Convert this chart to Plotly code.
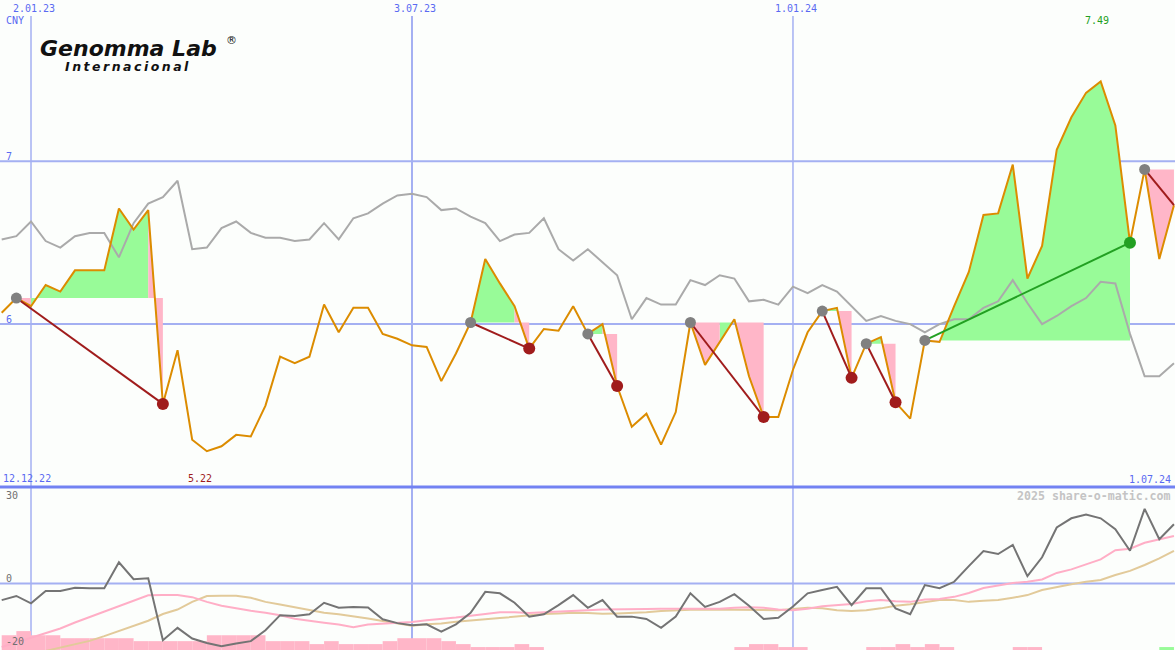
import plotly.graph_objects as go
import pandas as pd

# ---------------- data (weekly, Mondays) ----------------
dates = pd.date_range("2022-12-19", periods=81, freq="7D")

price = [6.07, 6.16, 6.11, 6.24, 6.20, 6.33, 6.33, 6.33, 6.71, 6.58, 6.70,
         5.51, 5.84, 5.29, 5.22, 5.25, 5.32, 5.31, 5.50, 5.80, 5.76,
         5.80, 6.12, 5.95, 6.10, 6.10, 5.94, 5.91, 5.87, 5.86, 5.65,
         5.82, 6.01, 6.40, 6.25, 6.11, 5.85, 5.97, 5.96, 6.11, 5.94,
         6.00, 5.62, 5.37, 5.45, 5.26, 5.46, 6.01, 5.75, 5.89, 6.03,
         5.68, 5.43, 5.43, 5.72, 5.95, 6.08, 6.10, 5.67, 5.88, 5.92,
         5.52, 5.42, 5.90, 5.89, 6.11, 6.32, 6.67, 6.68, 6.98, 6.28,
         6.48, 7.07, 7.27, 7.42, 7.49, 7.22, 6.50, 6.95, 6.40, 6.73]

benchmark = [6.52, 6.54, 6.63, 6.51, 6.47, 6.54, 6.56, 6.56, 6.41, 6.62, 6.74,
             6.78, 6.88, 6.46, 6.47, 6.59, 6.63, 6.56, 6.53, 6.53, 6.51,
             6.52, 6.62, 6.52, 6.65, 6.68, 6.74, 6.79, 6.80, 6.78, 6.70,
             6.71, 6.66, 6.62, 6.51, 6.55, 6.56, 6.65, 6.46, 6.39, 6.46,
             6.38, 6.30, 6.03, 6.16, 6.12, 6.12, 6.27, 6.24, 6.30, 6.28,
             6.14, 6.15, 6.12, 6.23, 6.19, 6.24, 6.20, 6.11, 6.02, 6.05,
             6.02, 6.00, 5.95, 6.00, 6.03, 6.03, 6.10, 6.14, 6.27, 6.13,
             6.00, 6.05, 6.11, 6.16, 6.26, 6.25, 5.94, 5.68, 5.68, 5.76]

momentum = [-5.6, -4.2, -6.7, -2.5, -2.5, -1.4, -1.6, -1.6, 7.2, 1.5, 1.8,
            -19.2, -15.0, -18.6, -20.1, -21.2, -20.3, -19.5, -15.8, -10.7, -11.0,
            -10.4, -6.5, -8.2, -7.9, -8.1, -12.1, -13.4, -14.1, -13.8, -16.3,
            -13.8, -9.9, -2.8, -3.3, -6.5, -11.2, -10.4, -7.3, -3.9, -8.2,
            -5.6, -11.2, -11.2, -12.0, -15.0, -11.2, -3.3, -7.9, -6.2, -3.6,
            -7.5, -12.0, -11.6, -7.8, -3.3, -2.2, -1.1, -7.3, -1.6, -1.6,
            -8.4, -10.4, -0.5, -1.6, 0.6, 5.9, 11.0, 10.0, 13.1, 2.5,
            8.9, 19.0, 22.1, 23.4, 22.1, 18.4, 11.1, 25.3, 15.0, 20.1]

ma_fast = [-21.5, -19.9, -18.3, -16.8, -15.2, -13.2, -11.4, -9.4, -7.7, -5.9, -4.0,
           -3.9, -3.9, -4.6, -6.2, -7.5, -8.4, -9.2, -9.9, -10.7, -11.9,
           -12.7, -13.3, -13.9, -14.8, -13.9, -13.6, -13.4, -13.0, -12.4, -12.0,
           -11.5, -10.9, -10.2, -9.7, -9.7, -10.0, -9.7, -9.4, -9.2, -9.0,
           -8.8, -8.8, -8.8, -8.6, -8.5, -8.5, -8.5, -8.5, -8.5, -8.2,
           -8.0, -8.2, -8.8, -9.0, -8.5, -7.7, -7.3, -6.9, -6.0, -5.6,
           -6.0, -6.2, -5.4, -5.2, -4.5, -3.2, -1.5, -0.7, 0.2, 0.6,
           1.4, 3.6, 4.8, 6.5, 8.2, 11.3, 11.8, 13.8, 14.9, 16.1]

ma_slow = [None, None, None, -22.8, -21.6, -20.6, -19.4, -17.8, -16.1, -14.4, -12.6,
           -10.3, -8.8, -6.2, -4.2, -4.1, -4.1, -4.8, -6.2, -7.1, -8.1,
           -9.0, -9.9, -10.4, -11.0, -11.8, -12.7, -13.5, -14.3, -13.8, -13.5,
           -12.9, -12.6, -12.1, -11.7, -11.2, -10.7, -10.3, -10.1, -9.9, -10.0,
           -10.2, -10.1, -10.0, -9.7, -9.3, -9.0, -8.9, -8.8, -8.8, -8.8,
           -8.9, -9.0, -9.0, -8.6, -8.2, -8.4, -9.0, -9.3, -9.0, -8.4,
           -7.5, -7.0, -6.4, -5.6, -5.6, -6.2, -5.8, -5.6, -4.8, -3.9,
           -2.2, -1.1, -0.2, 0.6, 1.2, 2.9, 4.3, 6.3, 8.5, 11.1]

# signal strength bars (negative = pink, positive = green)
signal_bars = [-5, -6.4, -5, -5, -4, -4, -4, -4, -4, -3, -3,
               -3, -3, -3, -5, -5, -5, -5, -3, -3, -3,
               -2, -3, -2, -2, -2, -3, -4, -4, -4, -3,
               -2, -1, -1, -1, -2, -1, 0, 0, 0, 0,
               0, 0, 0, 0, 0, 0, 0, 0, 0, -1,
               -2, -2, -1, -1, 0, 0, 0, 0, -1, -1,
               -2, -1, -2, -1, 0, 0, 0, 0, -1, -1,
               0, 0, 0, 0, 0, 0, 0, 0, 1, 0]

trade_starts = ["2022-12-26", "2023-07-31", "2023-09-25", "2023-11-13",
                "2024-01-15", "2024-02-05", "2024-03-04", "2024-06-17"]
trade_ends = ["2023-03-06", "2023-08-28", "2023-10-09", "2023-12-18",
              "2024-01-29", "2024-02-19", "2024-06-10", "2024-07-01"]
trade_closed = [True, True, True, True, True, True, True, False]

date_labels = ["2023-01-02", "2023-07-03", "2024-01-01"]
date_label_text = ["2.01.23", "3.07.23", "1.01.24"]
range_start_label = "12.12.22"
range_end_label = "1.07.24"
currency = "CNY"
price_ticks = [7, 6]
osc_ticks = [30, 0, -20]

# ---------------- styling constants ----------------
BG = "#fcfefc"
GRID = "#a4b0f2"
SEP = "#7282f2"
LBL = "#5a6af2"
ORANGE = "#dc8c00"
GRAYLINE = "#aaaaaa"
GREENFILL = "#98fb98"
PINKFILL = "#ffb6c8"
DARKRED = "#a01c1c"
GREEN = "#22a022"
MONO = "DejaVu Sans Mono"

W, H = 1175, 650
split = 163 / 650  # lower panel height share

idx = {d: i for i, d in enumerate(dates)}

fig = go.Figure()

# lower panel bars
fig.add_trace(go.Bar(
    x=dates, y=[abs(v) for v in signal_bars], base=-22.5,
    offset=0, width=7 * 86400000,
    marker=dict(color=[GREENFILL if v > 0 else PINKFILL for v in signal_bars], line=dict(width=0)),
    yaxis="y2", hoverinfo="skip"))

fig.add_trace(go.Scatter(x=dates, y=ma_slow, mode="lines", line=dict(color="#e2ca9a", width=2),
                         yaxis="y2", hoverinfo="skip"))
fig.add_trace(go.Scatter(x=dates, y=ma_fast, mode="lines", line=dict(color="#ffaec6", width=2),
                         yaxis="y2", hoverinfo="skip"))
fig.add_trace(go.Scatter(x=dates, y=momentum, mode="lines", line=dict(color="#747474", width=2),
                         yaxis="y2", hoverinfo="skip"))

# trade fills
gx, gy, px_, py_ = [], [], [], []
for s, e in zip(trade_starts, trade_ends):
    i0, i1 = idx[pd.Timestamp(s)], idx[pd.Timestamp(e)]
    base = price[i0]
    for k in range(i0, i1):
        xs = [dates[k], dates[k], dates[k + 1], dates[k + 1], dates[k], None]
        ys = [base, price[k], price[k + 1], base, base, None]
        if price[k + 1] > base:
            gx += xs; gy += ys
        else:
            px_ += xs; py_ += ys
fig.add_trace(go.Scatter(x=gx, y=gy, mode="lines", fill="toself", fillcolor=GREENFILL,
                         line=dict(width=0), hoverinfo="skip"))
fig.add_trace(go.Scatter(x=px_, y=py_, mode="lines", fill="toself", fillcolor=PINKFILL,
                         line=dict(width=0), hoverinfo="skip"))

fig.add_trace(go.Scatter(x=dates, y=benchmark, mode="lines", line=dict(color=GRAYLINE, width=2),
                         hoverinfo="skip"))
fig.add_trace(go.Scatter(x=dates, y=price, mode="lines", line=dict(color=ORANGE, width=2),
                         hoverinfo="skip"))

# trade lines and dots
for s, e, closed in zip(trade_starts, trade_ends, trade_closed):
    i0, i1 = idx[pd.Timestamp(s)], idx[pd.Timestamp(e)]
    win = price[i1] > price[i0]
    col = GREEN if win else DARKRED
    fig.add_trace(go.Scatter(x=[dates[i0], dates[i1]], y=[price[i0], price[i1]], mode="lines",
                             line=dict(color=col, width=2), hoverinfo="skip"))
    fig.add_trace(go.Scatter(x=[dates[i0]], y=[price[i0]], mode="markers",
                             marker=dict(color="#808080", size=11), hoverinfo="skip"))
    if closed:
        fig.add_trace(go.Scatter(x=[dates[i1]], y=[price[i1]], mode="markers",
                                 marker=dict(color=col, size=12), hoverinfo="skip"))

shapes = []
for d, wd in zip(date_labels, [1.5, 2, 1.5]):
    shapes.append(dict(type="line", xref="x", yref="paper", x0=d, x1=d, y0=0, y1=1 - 16 / H,
                       line=dict(color=GRID, width=wd), layer="below"))
for t in price_ticks:
    shapes.append(dict(type="line", xref="paper", yref="y", x0=0, x1=1, y0=t, y1=t,
                       line=dict(color=GRID, width=2), layer="below"))
shapes.append(dict(type="line", xref="paper", yref="y2", x0=0, x1=1, y0=0, y1=0,
                   line=dict(color=GRID, width=2), layer="below"))
shapes.append(dict(type="line", xref="paper", yref="paper", x0=0, x1=1, y0=split, y1=split,
                   line=dict(color=SEP, width=3), layer="below"))


def ann(text, x, y, color, size=10, xanchor="left", family=MONO, xref="paper", bold=False, italic=False, **kw):
    f = dict(family=family, size=size, color=color)
    if bold:
        f["weight"] = "bold"
    if italic:
        f["style"] = "italic"
    return dict(text=text, x=x if xref != "paper" else x / W, y=1 - y / H, xref=xref, yref="paper",
                showarrow=False, xanchor=xanchor, yanchor="middle", font=f, **kw)


annotations = []
for d, t in zip(date_labels, date_label_text):
    annotations.append(ann(t, d, 8, LBL, xanchor="center", xref="x", xshift=3))
annotations.append(ann(currency, 4, 21, LBL))
annotations.append(ann(str(price_ticks[0]), 4, 156, LBL))
annotations.append(ann(str(price_ticks[1]), 4, 319, LBL))
annotations.append(ann(range_start_label, 1, 478, LBL))
annotations.append(ann(range_end_label, 1173, 479, LBL, xanchor="right"))
imax = price.index(max(price))
imin = price.index(min(price))
annotations.append(ann(f"{max(price):.2f}", dates[imax], 21, GREEN, xanchor="center", xref="x", xshift=-4))
annotations.append(ann(f"{min(price):.2f}", dates[imin], 478, DARKRED, xanchor="center", xref="x", xshift=-7))
annotations.append(ann(str(osc_ticks[0]), 4, 495, "#707070"))
annotations.append(ann(str(osc_ticks[1]), 4, 578, "#707070"))
annotations.append(ann(str(osc_ticks[2]), 4, 641, "#707070"))
annotations.append(ann("2025 share-o-matic.com", 1173, 496, "#c4c4c4", size=11.6, xanchor="right", bold=True))
# logo
annotations.append(ann("Genomma Lab", 38, 48, "#111111", size=22, family="DejaVu Sans", bold=True, italic=True))
annotations.append(ann("®", 224, 41, "#111111", size=11, family="DejaVu Sans"))
annotations.append(ann("\u2009".join("Internacional"), 63, 66, "#111111", size=12.5,
                       family="DejaVu Sans", bold=True, italic=True))

fig.update_layout(
    width=W, height=H, margin=dict(l=0, r=0, t=0, b=0),
    paper_bgcolor=BG, plot_bgcolor=BG, showlegend=False,
    xaxis=dict(type="date", range=["2022-12-18 04:30", "2024-07-01 12:00"], visible=False, fixedrange=True),
    yaxis=dict(domain=[split, 1], range=[5.0, 7.99], visible=False, fixedrange=True),
    yaxis2=dict(domain=[0, split], range=[-22.5, 32.7], visible=False, anchor="x", fixedrange=True),
    shapes=shapes, annotations=annotations, barmode="overlay",
)

fig.write_html("out.html", config={"displayModeBar": False},
               post_script="document.body.style.margin='0';document.body.style.overflow='hidden';")
